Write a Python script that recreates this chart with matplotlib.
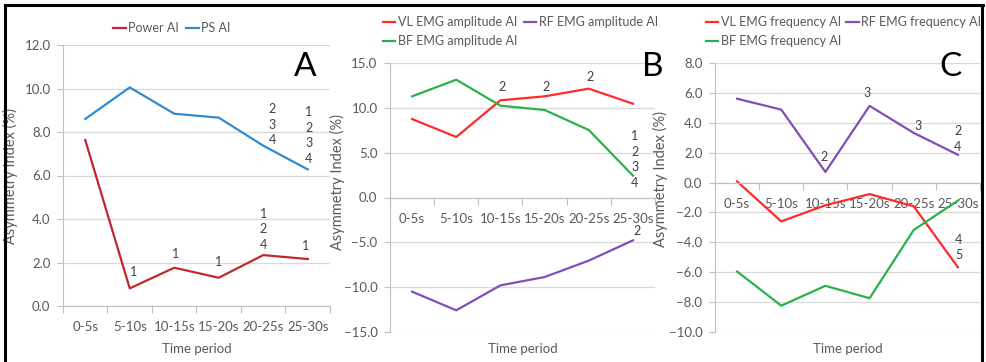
import numpy as np
import matplotlib
matplotlib.use("Agg")
import matplotlib.pyplot as plt
from matplotlib.lines import Line2D

plt.rcParams['font.family'] = ['Lato', 'DejaVu Sans']

periods = ['0-5s', '5-10s', '10-15s', '15-20s', '20-25s', '25-30s']

# panel A
power_ai = [7.63, 0.81, 1.76, 1.30, 2.34, 2.16]
ps_ai = [8.60, 10.05, 8.84, 8.66, 7.37, 6.28]

# panel B
vl_amp = [8.75, 6.75, 10.84, 11.28, 12.14, 10.46]
rf_amp = [-10.50, -12.58, -9.80, -8.87, -7.04, -4.78]
bf_amp = [11.28, 13.14, 10.24, 9.76, 7.53, 2.44]

# panel C
vl_freq = [0.08, -2.60, -1.52, -0.77, -1.59, -5.67]
rf_freq = [5.61, 4.88, 0.71, 5.13, 3.32, 1.86]
bf_freq = [-5.95, -8.24, -6.91, -7.74, -3.17, -1.21]

W, H = 987, 362
GRAY = '#595959'
FS = 9.5


def fx(px):
    return px / W


def fy(py):
    return 1 - py / H


def make_axes(fig, left, right, top, bottom):
    return fig.add_axes([fx(left), fy(bottom), fx(right - left), (bottom - top) / H])


def setup(ax, lo, hi, step):
    ax.set_xlim(0, 6)
    ax.set_ylim(lo, hi)
    ax.set_yticks(np.arange(lo, hi + step / 2, step))
    ax.yaxis.set_major_formatter('{x:.1f}')
    ax.grid(axis='y', color='#d9d9d9', lw=0.9)
    ax.set_axisbelow(True)
    for s in ['top', 'right']:
        ax.spines[s].set_visible(False)
    ax.spines['left'].set_color('#bfbfbf')
    ax.spines['bottom'].set_color('#bfbfbf')
    ax.spines['bottom'].set_position(('data', 0))
    ax.set_xticks(np.arange(0, 7))
    ax.set_xticklabels([])
    ax.set_xticks(np.arange(6) + 0.5, minor=True)
    ax.set_xticklabels(periods, minor=True)
    ax.tick_params(axis='x', which='major', length=5, color='#bfbfbf')
    ax.tick_params(axis='x', which='minor', length=0, pad=11, labelsize=FS, labelcolor=GRAY)
    ax.tick_params(axis='y', length=4, color='#bfbfbf', pad=5, labelsize=FS, labelcolor=GRAY)
    ax.set_ylabel('Asymmetry Index (%)', fontsize=10.5, color=GRAY)
    ax.set_xlabel('Time period', fontsize=9.5, color=GRAY)
    ax.xaxis.label.set_va('center')


def note(ax, i, val, text, dx, dy):
    ax.annotate(text, xy=(i + 0.5, val), xytext=(dx, dy), textcoords='offset pixels',
                ha='center', va='center', fontsize=9, color='#404040', linespacing=1.35)


fig = plt.figure(figsize=(W / 100, H / 100), dpi=100)
x = np.arange(6) + 0.5

# ---- A ----
axA = make_axes(fig, 63, 330, 45, 306)
setup(axA, 0, 12, 2)
axA.plot(x, power_ai, color='#c0282e', lw=1.6, label='Power AI')
axA.plot(x, ps_ai, color='#2f8bd0', lw=1.6, label='PS AI')
axA.yaxis.set_label_coords(-0.169, 0.5)
axA.xaxis.set_label_coords(0.5, (306 - 349) / 261)
axA.legend(loc='center left', bbox_to_anchor=(fx(113), fy(28)), bbox_transform=fig.transFigure,
           ncol=2, frameon=False, fontsize=9, handlelength=1.0, handletextpad=0.2,
           columnspacing=0.6, borderpad=0, borderaxespad=0, labelcolor=GRAY)
note(axA, 4, ps_ai[4], '2\n3\n4', 9, 21)
note(axA, 5, ps_ai[5], '1\n2\n3\n4', 1, 34)
note(axA, 1, power_ai[1], '1', 4, 16)
note(axA, 2, power_ai[2], '1', 1, 14)
note(axA, 3, power_ai[3], '1', 0, 16)
note(axA, 4, power_ai[4], '1\n2\n4', 0, 26)
note(axA, 5, power_ai[5], '1', -2, 13)
fig.text(fx(305), fy(67), 'A', fontsize=24, ha='center', va='center')

# ---- B ----
axB = make_axes(fig, 390, 655, 63, 332)
setup(axB, -15, 15, 5)
lv, = axB.plot(x, vl_amp, color='#ff2a2a', lw=1.6, label='VL EMG amplitude AI')
lr, = axB.plot(x, rf_amp, color='#7f4fb5', lw=1.6, label='RF EMG amplitude AI')
lb, = axB.plot(x, bf_amp, color='#2db04b', lw=1.6, label='BF EMG amplitude AI')
axB.yaxis.set_label_coords(-0.17, 0.558)
axB.xaxis.set_label_coords(0.5, (332 - 349) / 269)
axB.legend([lv, lb, lr], [lv.get_label(), lb.get_label(), lr.get_label()],
           loc='upper left', bbox_to_anchor=(fx(383), fy(16)), bbox_transform=fig.transFigure,
           ncol=2, frameon=False, fontsize=9, handlelength=1.0, handletextpad=0.2,
           columnspacing=0.5, labelspacing=0.55, borderpad=0, borderaxespad=0, labelcolor=GRAY)
note(axB, 2, vl_amp[2], '2', 2, 13)
note(axB, 3, vl_amp[3], '2', 1, 9)
note(axB, 4, vl_amp[4], '2', 1, 12)
note(axB, 5, bf_amp[5], '1\n2\n3\n4', 2, 16)
note(axB, 5, rf_amp[5], '2', 4, 9)
fig.text(fx(653), fy(67), 'B', fontsize=24, ha='center', va='center')

# ---- C ----
axC = make_axes(fig, 715, 980, 63, 332)
setup(axC, -10, 8, 2)
cv, = axC.plot(x, vl_freq, color='#ff2a2a', lw=1.6, label='VL EMG frequency AI')
cr, = axC.plot(x, rf_freq, color='#7f4fb5', lw=1.6, label='RF EMG frequency AI')
cb, = axC.plot(x, bf_freq, color='#2db04b', lw=1.6, label='BF EMG frequency AI')
axC.yaxis.set_label_coords(-0.177, 0.569)
axC.xaxis.set_label_coords(0.5, (332 - 349) / 269)
axC.legend([cv, cb, cr], [cv.get_label(), cb.get_label(), cr.get_label()],
           loc='upper left', bbox_to_anchor=(fx(706), fy(16)), bbox_transform=fig.transFigure,
           ncol=2, frameon=False, fontsize=9, handlelength=1.0, handletextpad=0.2,
           columnspacing=0.4, labelspacing=0.55, borderpad=0, borderaxespad=0, labelcolor=GRAY)
note(axC, 2, rf_freq[2], '2', -1, 15)
note(axC, 3, rf_freq[3], '3', -2, 13)
note(axC, 4, rf_freq[4], '3', 4, 7)
note(axC, 5, rf_freq[5], '2\n4', 0, 16)
note(axC, 5, vl_freq[5], '4\n5', 1, 20)
fig.text(fx(951), fy(67), 'C', fontsize=24, ha='center', va='center')

# outer frame
for xs, ys in [((5, 983), (5, 5)), ((5, 5), (5, 362)), ((982, 982), (5, 362))]:
    fig.add_artist(Line2D([fx(v) for v in xs], [fy(v) for v in ys], color='black', lw=2.2))

fig.savefig('out.png', dpi=100)
